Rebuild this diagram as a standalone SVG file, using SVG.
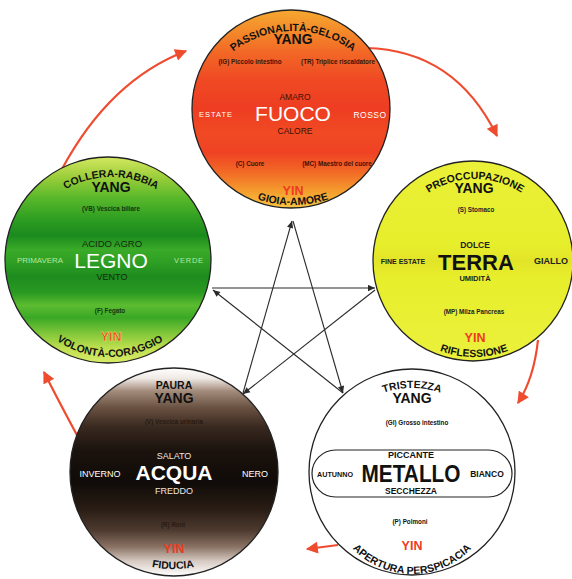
<svg xmlns="http://www.w3.org/2000/svg" width="572" height="579" viewBox="0 0 572 579">
<style>
text{font-family:"Liberation Sans",Arial,Helvetica,sans-serif;text-anchor:middle}
.b{font-weight:bold}
.yang{font-weight:bold;font-size:14px;fill:#111}
.yin{font-weight:bold;font-size:12.5px;fill:#ee3a24}
.arc{font-weight:bold;font-size:10.5px;fill:#111}
.org{font-weight:bold;font-size:6.3px}
.mid{font-size:8.5px}
.big{font-size:21px}
.circ{stroke:#222;stroke-width:1.3}
.star{stroke:#2a2a2a;stroke-width:1.1;fill:none}
.red{stroke:#ef4b2f;stroke-width:2.2;fill:none}
</style>
<defs>
<linearGradient id="gF" x1="0" y1="0" x2="0" y2="1">
<stop offset="0" stop-color="#f5a830"/>
<stop offset="0.1" stop-color="#f48c2a"/>
<stop offset="0.22" stop-color="#f26626"/>
<stop offset="0.35" stop-color="#ef4a23"/>
<stop offset="0.5" stop-color="#ee3d22"/>
<stop offset="0.62" stop-color="#f04a23"/>
<stop offset="0.72" stop-color="#ef4223"/>
<stop offset="0.82" stop-color="#f26a26"/>
<stop offset="0.92" stop-color="#f5a02e"/>
<stop offset="1" stop-color="#f8c443"/>
</linearGradient>
<linearGradient id="gT" x1="0" y1="0" x2="0" y2="1">
<stop offset="0" stop-color="#eaf138"/>
<stop offset="0.42" stop-color="#e7ee2b"/>
<stop offset="0.5" stop-color="#e2e428"/>
<stop offset="0.58" stop-color="#e7ee2b"/>
<stop offset="1" stop-color="#ebf13c"/>
</linearGradient>
<linearGradient id="gL" x1="0" y1="0" x2="0" y2="1">
<stop offset="0" stop-color="#d4e860"/>
<stop offset="0.1" stop-color="#9acd3a"/>
<stop offset="0.2" stop-color="#58b82a"/>
<stop offset="0.3" stop-color="#2f9e22"/>
<stop offset="0.38" stop-color="#1a8a1e"/>
<stop offset="0.45" stop-color="#3aaa28"/>
<stop offset="0.51" stop-color="#2e9f24"/>
<stop offset="0.58" stop-color="#1d8c1f"/>
<stop offset="0.66" stop-color="#2a9a22"/>
<stop offset="0.72" stop-color="#5cbc30"/>
<stop offset="0.78" stop-color="#3aa826"/>
<stop offset="0.86" stop-color="#84c83a"/>
<stop offset="0.93" stop-color="#c0e050"/>
<stop offset="1" stop-color="#d8ea6a"/>
</linearGradient>
<linearGradient id="gA" x1="0" y1="0" x2="0" y2="1">
<stop offset="0" stop-color="#ffffff"/>
<stop offset="0.05" stop-color="#efe9e5"/>
<stop offset="0.11" stop-color="#a48c7c"/>
<stop offset="0.19" stop-color="#6a5242"/>
<stop offset="0.28" stop-color="#3a2a20"/>
<stop offset="0.4" stop-color="#1a120d"/>
<stop offset="0.55" stop-color="#100b08"/>
<stop offset="0.68" stop-color="#2a1d15"/>
<stop offset="0.78" stop-color="#4d3a2e"/>
<stop offset="0.86" stop-color="#8a7264"/>
<stop offset="0.93" stop-color="#d8ccc4"/>
<stop offset="1" stop-color="#ffffff"/>
</linearGradient>
<marker id="ah" viewBox="0 0 10 10" refX="10" refY="5" markerWidth="9" markerHeight="7" markerUnits="userSpaceOnUse" orient="auto"><path d="M0,0.5 L10,5 L0,9.5 Z" fill="#2a2a2a"/></marker>
<marker id="rh" viewBox="0 0 10 10" refX="9" refY="5" markerWidth="13" markerHeight="12" markerUnits="userSpaceOnUse" orient="auto"><path d="M0,0 L10,5 L0,10 Z" fill="#ef4b2f"/></marker>
<path id="pFt" d="M213,73.1 A97,97 0 0 1 373,73.1"/>
<path id="pFb" d="M223,179.9 A110,110 0 0 0 363,179.9"/>
<path id="pTt" d="M400,224 A85,85 0 0 1 550,224"/>
<path id="pTb" d="M394,314.1 A96,96 0 0 0 554,314.1"/>
<path id="pLt" d="M31,225.8 A90,90 0 0 1 191,225.8"/>
<path id="pLb" d="M25,304.4 A95,95 0 0 0 195,304.4"/>
<path id="pAb" d="M113,551.2 A110,110 0 0 0 233,551.2"/>
<path id="pMt" d="M342,422.7 A88,88 0 0 1 482,422.7"/>
<path id="pMb" d="M334,517.3 A82,82 0 0 0 490,517.3"/>
</defs>
<rect width="572" height="579" fill="#ffffff"/>

<g id="connectors">
<path class="red" d="M62,169 Q110,80 186,51" marker-end="url(#rh)"/>
<path class="red" d="M366,48 Q455,50 497,136" marker-end="url(#rh)"/>
<path class="red" d="M538,340 Q534,378 518,403" marker-end="url(#rh)"/>
<path class="red" d="M338,545 L307,549" marker-end="url(#rh)"/>
<path class="red" d="M78,437 Q58,400 44,372" marker-end="url(#rh)"/>
<line class="star" x1="243" y1="393" x2="292" y2="221" marker-end="url(#ah)"/>
<line class="star" x1="293" y1="221" x2="343" y2="393" marker-end="url(#ah)"/>
<line class="star" x1="343" y1="393" x2="213" y2="290" marker-end="url(#ah)"/>
<line class="star" x1="212" y1="288" x2="375" y2="288" marker-end="url(#ah)"/>
<line class="star" x1="375" y1="290" x2="243" y2="394" marker-end="url(#ah)"/>
</g>

<g id="node-fuoco">
<circle class="circ" cx="291" cy="109" r="99" fill="url(#gF)"/>
<text class="arc"><textPath href="#pFt" startOffset="50%">PASSIONALITÀ-GELOSIA</textPath></text>
<text class="yang" x="293" y="44">YANG</text>
<text class="org" x="250" y="64" fill="#3a1408">(IG) Piccolo intestino</text>
<text class="org" x="338" y="64" fill="#3a1408">(TR) Triplice riscaldatore</text>
<text class="mid" x="295" y="100" fill="#3a1208">AMARO</text>
<text class="big" x="293" y="121" fill="#ffffff">FUOCO</text>
<text x="216" y="117" font-size="7.5" letter-spacing="1" fill="#ffffff">ESTATE</text>
<text x="370" y="118" font-size="8.5" letter-spacing="0.5" fill="#ffffff">ROSSO</text>
<text class="mid" x="295" y="134" fill="#3a1208">CALORE</text>
<text class="org" x="250" y="166" fill="#3a1408">(C) Cuore</text>
<text class="org" x="337" y="166" fill="#3a1408">(MC) Maestro del cuore</text>
<text class="yin" x="293" y="195">YIN</text>
<text class="arc" font-size="10"><textPath href="#pFb" startOffset="50%">GIOIA-AMORE</textPath></text>
</g>

<g id="node-terra">
<circle class="circ" cx="473" cy="261" r="100" fill="url(#gT)"/>
<text class="arc"><textPath href="#pTt" startOffset="50%">PREOCCUPAZIONE</textPath></text>
<text class="yang" x="474" y="193">YANG</text>
<text class="org" x="476" y="212" font-size="7" fill="#222">(S) Stomaco</text>
<text class="b" x="475" y="248" font-size="8.5" fill="#222">DOLCE</text>
<text class="b" x="476" y="270" font-size="22" fill="#111">TERRA</text>
<text class="b" x="403" y="264" font-size="7" fill="#222">FINE ESTATE</text>
<text class="b" x="551" y="264" font-size="9" fill="#222">GIALLO</text>
<text class="b" x="475" y="281" font-size="7.5" fill="#222">UMIDITÀ</text>
<text class="org" x="474" y="314" font-size="7.3" fill="#222">(MP) Milza Pancreas</text>
<text class="yin" x="475" y="342">YIN</text>
<text class="arc" font-size="10"><textPath href="#pTb" startOffset="50%">RIFLESSIONE</textPath></text>
</g>

<g id="node-legno">
<circle class="circ" cx="108" cy="260" r="103" fill="url(#gL)"/>
<text class="arc"><textPath href="#pLt" startOffset="50%">COLLERA-RABBIA</textPath></text>
<text class="yang" x="111" y="192" font-size="15">YANG</text>
<text class="org" x="111" y="211" font-size="7" fill="#163410">(VB) Vescica biliare</text>
<text x="112" y="247" font-size="9.5" fill="#142a0c">ACIDO AGRO</text>
<text class="big" x="111" y="268" fill="#ffffff">LEGNO</text>
<text x="40" y="263" font-size="7" textLength="46" lengthAdjust="spacingAndGlyphs" fill="#b6e8a0">PRIMAVERA</text>
<text x="189" y="263" font-size="7.5" letter-spacing="0.8" fill="#b6e8a0">VERDE</text>
<text x="112" y="280" font-size="9" fill="#142a0c">VENTO</text>
<text class="org" x="110" y="313" font-size="7" fill="#163410">(F) Fegato</text>
<text class="yin" x="111" y="341" stroke="#f6e070" stroke-width="0.4">YIN</text>
<text class="arc" font-size="10.5"><textPath href="#pLb" startOffset="50%">VOLONTÀ-CORAGGIO</textPath></text>
</g>

<g id="node-acqua">
<circle class="circ" cx="174" cy="472" r="104" fill="url(#gA)"/>
<text class="b" x="174" y="389" font-size="10.5" fill="#111">PAURA</text>
<text class="yang" x="174" y="403" font-size="15">YANG</text>
<text class="org" x="174" y="424" font-size="7" fill="#2a1b12">(V) Vescica urinaria</text>
<text x="174" y="459" font-size="9" fill="#ece6e0">SALATO</text>
<text class="b" x="174" y="480" font-size="21" fill="#ffffff">ACQUA</text>
<text x="100" y="477" font-size="9" fill="#ffffff">INVERNO</text>
<text x="255" y="477" font-size="9" fill="#ffffff">NERO</text>
<text x="174" y="494" font-size="9" fill="#ece6e0">FREDDO</text>
<text class="org" x="173" y="527" font-size="7" fill="#2a1b12">(R) Reni</text>
<text class="yin" x="174" y="553">YIN</text>
<text class="arc" font-size="10"><textPath href="#pAb" startOffset="50%">FIDUCIA</textPath></text>
</g>

<g id="node-metallo">
<circle class="circ" cx="412" cy="472" r="103" fill="#ffffff"/>
<rect x="312" y="450" width="200" height="47" rx="23.5" fill="none" stroke="#222" stroke-width="1.2"/>
<text class="arc" font-size="10"><textPath href="#pMt" startOffset="50%">TRISTEZZA</textPath></text>
<text class="yang" x="412" y="403">YANG</text>
<text class="org" x="417" y="425" font-size="7" fill="#111">(GI) Grosso intestino</text>
<text class="b" x="411" y="458" font-size="9" fill="#111">PICCANTE</text>
<text class="b" x="411" y="482" font-size="23" textLength="99" lengthAdjust="spacingAndGlyphs" fill="#111">METALLO</text>
<text class="b" x="335" y="477" font-size="7.5" textLength="36" lengthAdjust="spacingAndGlyphs" fill="#111">AUTUNNO</text>
<text class="b" x="487" y="477" font-size="8.5" fill="#111">BIANCO</text>
<text class="b" x="411" y="494" font-size="8.5" fill="#111">SECCHEZZA</text>
<text class="org" x="410" y="524" font-size="7" fill="#111">(P) Polmoni</text>
<text class="yin" x="412" y="550">YIN</text>
<text class="arc" font-size="11"><textPath href="#pMb" startOffset="50%">APERTURA PERSPICACIA</textPath></text>
</g>
</svg>
